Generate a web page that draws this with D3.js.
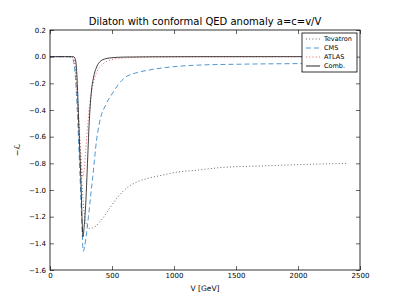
<!DOCTYPE html>
<html>
<head>
<meta charset="utf-8">
<script src="https://cdn.jsdelivr.net/npm/d3@7"></script>
<style>
  body { margin: 0; background: #fff; }
  svg text { font-family: "DejaVu Sans", sans-serif; fill: #000; }
</style>
</head>
<body>
<svg id="chart" width="400" height="300"></svg>
<script>
// values (V in GeV, -L)
var tevatronV = [0, 150, 180, 200, 220, 240, 260, 280, 300, 320, 340, 370, 400, 450, 500, 550, 600, 650, 700, 800, 900, 1000, 1200, 1400, 1700, 2000, 2400];
var tevatronY = [0, 0, -0.005, -0.05, -0.3, -0.65, -1.0, -1.2, -1.27, -1.29, -1.285, -1.27, -1.24, -1.18, -1.11, -1.05, -1.0, -0.965, -0.94, -0.91, -0.89, -0.87, -0.85, -0.83, -0.82, -0.81, -0.80];

var cmsV = [0, 150, 180, 200, 220, 240, 255, 268, 280, 295, 310, 325, 345, 375, 400, 450, 500, 550, 600, 700, 800, 1000, 1200, 1500, 2000, 2400];
var cmsY = [0, 0, -0.01, -0.1, -0.4, -0.85, -1.2, -1.46, -1.42, -1.32, -1.2, -1.07, -0.9, -0.63, -0.49, -0.36, -0.28, -0.21, -0.16, -0.12, -0.1, -0.075, -0.063, -0.057, -0.052, -0.05];

var atlasV = [0, 150, 180, 200, 220, 240, 255, 265, 275, 290, 305, 320, 340, 360, 380, 400, 450, 500, 600, 800, 1000, 1500, 2400];
var atlasY = [0, 0, -0.005, -0.05, -0.3, -0.6, -0.82, -0.9, -0.85, -0.68, -0.5, -0.36, -0.24, -0.16, -0.11, -0.08, -0.04, -0.022, -0.01, -0.004, -0.002, -0.001, 0];

var combV = [0, 150, 190, 200, 210, 220, 230, 240, 250, 258, 266, 275, 290, 300, 317, 335, 350, 380, 400, 450, 500, 600, 800, 1200, 2400];
var combY = [0, 0, 0, -0.01, -0.05, -0.2, -0.45, -0.7, -0.95, -1.2, -1.35, -1.28, -1.07, -0.85, -0.48, -0.25, -0.16, -0.07, -0.04, -0.015, -0.008, -0.003, -0.001, 0, 0];

var xTicks = [0, 500, 1000, 1500, 2000, 2500];
var yTicks = [0.2, 0, -0.2, -0.4, -0.6, -0.8, -1.0, -1.2, -1.4, -1.6];

var series = [
  {name: 'Tevatron', v: tevatronV, y: tevatronY, color: '#555', dash: '1,2.2'},
  {name: 'CMS', v: cmsV, y: cmsY, color: '#3d8ac9', dash: '5,3'},
  {name: 'ATLAS', v: atlasV, y: atlasY, color: '#e86a6a', dash: '1.2,2'},
  {name: 'Comb.', v: combV, y: combY, color: '#111', dash: null}
];

var margin = {left: 50, right: 40, top: 30, bottom: 30};
var W = 400, H = 300;
var svg = d3.select('#chart');

var x = d3.scaleLinear().domain([0, 2500]).range([margin.left, W - margin.right]);
var y = d3.scaleLinear().domain([-1.6, 0.2]).range([H - margin.bottom, margin.top]);

var fmtY = d3.format('.1f');

// ticks pointing inwards, on all four sides
var tk = 4;
svg.append('g')
  .attr('transform', 'translate(0,' + (H - margin.bottom) + ')')
  .call(d3.axisBottom(x).tickValues(xTicks).tickSize(-tk).tickPadding(3).tickFormat(d3.format('d')))
  .call(function(g){ g.select('.domain').remove(); });
svg.append('g')
  .attr('transform', 'translate(0,' + margin.top + ')')
  .call(d3.axisTop(x).tickValues(xTicks).tickSize(-tk).tickFormat(''))
  .call(function(g){ g.select('.domain').remove(); });
svg.append('g')
  .attr('transform', 'translate(' + margin.left + ',0)')
  .call(d3.axisLeft(y).tickValues(yTicks).tickSize(-tk).tickPadding(4).tickFormat(fmtY))
  .call(function(g){ g.select('.domain').remove(); });
svg.append('g')
  .attr('transform', 'translate(' + (W - margin.right) + ',0)')
  .call(d3.axisRight(y).tickValues(yTicks).tickSize(-tk).tickFormat(''))
  .call(function(g){ g.select('.domain').remove(); });

svg.selectAll('.tick text').style('font-size', '7px').style('font-family', '"DejaVu Sans", sans-serif');
svg.selectAll('.tick line').attr('stroke', '#000').attr('stroke-width', 0.6);

var line = d3.line()
  .curve(d3.curveMonotoneX)
  .x(function(d){ return x(d[0]); })
  .y(function(d){ return y(d[1]); });

svg.append('defs').append('clipPath').attr('id', 'clip')
  .append('rect')
  .attr('x', margin.left).attr('y', margin.top)
  .attr('width', W - margin.left - margin.right)
  .attr('height', H - margin.top - margin.bottom);

svg.append('g').attr('clip-path', 'url(#clip)')
  .selectAll('path').data(series).enter()
  .append('path')
  .attr('d', function(s){ return line(d3.zip(s.v, s.y)); })
  .attr('fill', 'none')
  .attr('stroke', function(s){ return s.color; })
  .attr('stroke-width', function(s){ return s.dash ? 0.9 : 0.8; })
  .attr('stroke-dasharray', function(s){ return s.dash; });

// frame
svg.append('rect')
  .attr('x', margin.left).attr('y', margin.top)
  .attr('width', W - margin.left - margin.right)
  .attr('height', H - margin.top - margin.bottom)
  .attr('fill', 'none').attr('stroke', '#000').attr('stroke-width', 0.8);

// title and axis labels
svg.append('text').attr('x', (margin.left + W - margin.right) / 2).attr('y', 25)
  .attr('text-anchor', 'middle').style('font-size', '10px')
  .text('Dilaton with conformal QED anomaly a=c=v/V');
svg.append('text').attr('x', (margin.left + W - margin.right) / 2).attr('y', 291)
  .attr('text-anchor', 'middle').style('font-size', '7.5px')
  .text('V [GeV]');
svg.append('text')
  .attr('transform', 'translate(20,150) rotate(-90)')
  .attr('text-anchor', 'middle').style('font-size', '8px')
  .text('−\u2112');

// legend
var lg = svg.append('g').attr('transform', 'translate(302,33)');
lg.append('rect').attr('width', 55).attr('height', 39)
  .attr('fill', '#fff').attr('stroke', '#000').attr('stroke-width', 0.8);
var items = lg.selectAll('g.item').data(series).enter().append('g')
  .attr('class', 'item')
  .attr('transform', function(d, i){ return 'translate(0,' + (6 + i * 9) + ')'; });
items.append('line')
  .attr('x1', 4).attr('x2', 18).attr('y1', 0).attr('y2', 0)
  .attr('stroke', function(d){ return d.color; })
  .attr('stroke-width', 0.9)
  .attr('stroke-dasharray', function(d){ return d.dash; });
items.append('text').attr('x', 22).attr('y', 2.3)
  .style('font-size', '6.5px')
  .text(function(d){ return d.name; });
</script>
</body>
</html>
